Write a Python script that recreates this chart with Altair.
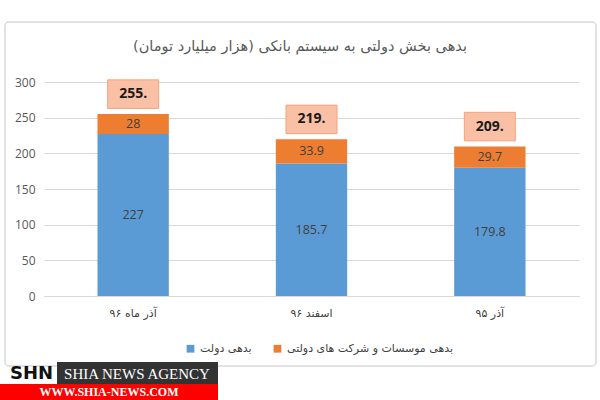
import altair as alt
import pandas as pd

# ---- data ----
categories = ["آذر ماه ۹۶", "اسفند ۹۶", "آذر ۹۵"]
gov_debt = [227, 185.7, 179.8]          # بدهی دولت
company_debt = [28, 33.9, 29.7]         # بدهی موسسات و شرکت های دولتی
total_labels = ["255.", "219.", "209."]
series_names = ["بدهی دولت", "بدهی موسسات و شرکت های دولتی"]
series_colors = ["#5b9bd5", "#ed7d31"]
y_ticks = [0, 50, 100, 150, 200, 250, 300]

rows = []
for i, c in enumerate(categories):
    rows.append({"cat": c, "series": series_names[0], "value": gov_debt[i], "ord": 0})
    rows.append({"cat": c, "series": series_names[1], "value": company_debt[i], "ord": 1})
df = pd.DataFrame(rows)

tot = pd.DataFrame({
    "cat": categories,
    "total": [g + o for g, o in zip(gov_debt, company_debt)],
    "label": total_labels,
})

FA = "DejaVu Sans"
NUM = "Open Sans, DejaVu Sans"
W, H = 535, 214

xaxis = alt.Axis(labelAngle=0, ticks=False, domainColor="#d9d9d9",
                 labelColor="#404040", labelFontSize=11, labelFont=FA, labelPadding=11)
xscale = alt.Scale(domain=categories, paddingInner=0.6, paddingOuter=0.3)
yaxis = alt.Axis(values=y_ticks, ticks=False, domain=False, labelOverlap=False,
                 gridColor="#d9d9d9", labelColor="#595959", labelFontSize=12,
                 labelPadding=9, labelFont=NUM)
yscale = alt.Scale(domain=[0, 300])


def X():
    return alt.X("cat:N", sort=categories, scale=xscale, axis=xaxis, title=None)


def Y(field, **kw):
    return alt.Y(field, scale=yscale, axis=yaxis, title=None, **kw)


bars = alt.Chart(df).mark_bar().encode(
    x=X(),
    y=Y("value:Q", stack="zero"),
    color=alt.Color("series:N", sort=series_names,
                    scale=alt.Scale(domain=series_names, range=series_colors),
                    legend=alt.Legend(title=None, orient="none", direction="horizontal",
                                      legendX=141, legendY=261, symbolType="square",
                                      symbolSize=60, labelFontSize=11, labelFont=FA,
                                      labelColor="#404040", columnPadding=20, labelLimit=400,
                                      symbolStrokeWidth=0)),
    order=alt.Order("ord:Q"),
)

seg_text = alt.Chart(df).transform_stack(
    stack="value", groupby=["cat"], as_=["y0", "y1"], sort=[alt.SortField("ord")]
).transform_calculate(
    mid="(datum.y0 + datum.y1) / 2"
).mark_text(fontSize=12.5, color="#404040", font=NUM).encode(
    x=X(),
    y=Y("mid:Q"),
    text=alt.Text("value:Q"),
)

boxes = alt.Chart(tot).transform_calculate(
    b0="datum.total + 8", b1="datum.total + 48"
).mark_bar(size=51, fill="#f9c0a6", stroke="#f2a47c", strokeWidth=1).encode(
    x=X(),
    y=Y("b0:Q"),
    y2="b1:Q",
)

box_text = alt.Chart(tot).transform_calculate(
    m="datum.total + 28"
).mark_text(fontSize=14, fontWeight="bold", color="#1a1a1a", font=NUM).encode(
    x=X(),
    y=Y("m:Q"),
    text="label:N",
)

one = pd.DataFrame({"k": [0]})
border = alt.Chart(one).mark_rect(fill=None, stroke="#d9d9d9", strokeWidth=1.5, cornerRadius=4).encode(
    x=alt.value(-39), x2=alt.value(552), y=alt.value(-60), y2=alt.value(284))

title = alt.Chart(one).mark_text(fontSize=14.5, color="#595959", font=FA).encode(
    x=alt.value(256), y=alt.value(-35), text=alt.value("بدهی بخش دولتی به سیستم بانکی (هزار میلیارد تومان)"))

wm_gray = alt.Chart(one).mark_rect(fill="#333333").encode(
    x=alt.value(13), x2=alt.value(174), y=alt.value(280), y2=alt.value(302))
wm_red = alt.Chart(one).mark_rect(fill="#ff0000").encode(
    x=alt.value(-44), x2=alt.value(174), y=alt.value(302), y2=alt.value(318))
wm_shn = alt.Chart(one).mark_text(fontSize=18, fontWeight="bold", color="#111111",
                                  font="DejaVu Sans", align="left").encode(
    x=alt.value(-34), y=alt.value(292), text=alt.value("SHN"))
wm_agency = alt.Chart(one).mark_text(fontSize=15, color="white", font="Liberation Serif").encode(
    x=alt.value(93), y=alt.value(292), text=alt.value("SHIA NEWS AGENCY"))
wm_url = alt.Chart(one).mark_text(fontSize=12, fontWeight="bold", color="white", font="Liberation Serif").encode(
    x=alt.value(65), y=alt.value(310), text=alt.value("WWW.SHIA-NEWS.COM"))

chart = alt.layer(
    border, title, bars, seg_text, boxes, box_text,
    wm_gray, wm_red, wm_shn, wm_agency, wm_url
).properties(
    width=W, height=H,
    autosize=alt.AutoSizeParams(type="none"),
    padding={"left": 44, "top": 82, "right": 21, "bottom": 104},
    background="white",
).configure_view(stroke=None)

chart.save("out.html", embed_options={"renderer": "svg", "actions": False})
